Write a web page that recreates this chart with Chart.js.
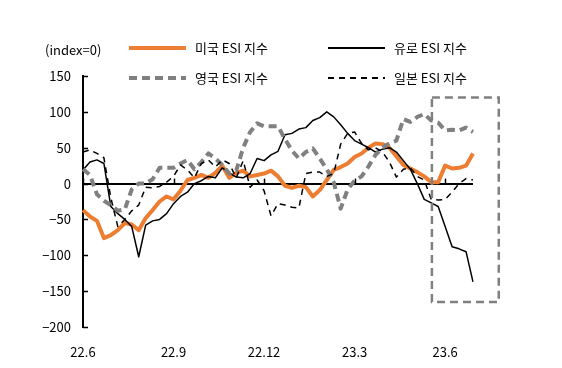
<!DOCTYPE html>
<html>
<head>
<meta charset="utf-8">
<script src="https://cdn.jsdelivr.net/npm/chart.js@4"></script>
<style>
  body { margin: 0; background: #fff; }
  #wrap { position: relative; width: 562px; height: 368px; font-family: "Noto Sans CJK KR", "Noto Sans", sans-serif; color: #000; }
  #chart-esi { position: absolute; left: 0; top: 0; }
  .unit { position: absolute; left: 45px; top: 40px; font-size: 13px; line-height: 20px; }
  .leg { position: absolute; display: flex; align-items: center; font-size: 13px; line-height: 20px; white-space: nowrap; }
  .leg svg { margin-right: 9px; }
</style>
</head>
<body>
<div id="wrap">
  <canvas id="chart-esi" width="562" height="368"></canvas>
  <div class="unit">(index=0)</div>
  <div id="legend"></div>
</div>
<script>
// 주간 샘플 (22.6 ~ 23.7)
const tickLabels = ['22.6', '22.9', '22.12', '23.3', '23.6'];
const tickIndex = [0, 13, 26, 39, 52];

const usEsi = [-37, -46, -52, -76, -72, -65, -55, -57, -65, -48, -37, -25, -18, -22, -10, 5, 8, 12, 8, 15,
  25, 8, 15, 18, 10, 12, 14, 18, 10, -3, -6, -3, -5, -18, -9, 5, 19, 23, 28, 37,
  42, 50, 56, 55, 50, 38, 26, 21, 16, 10, 2, 2, 25, 21, 22, 25, 42];
const euroEsi = [19, 30, 33, 28, -32, -42, -50, -60, -102, -58, -52, -50, -42, -28, -18, -12, 0, 4, 10, 8,
  22, 15, 9, 8, 14, 35, 32, 40, 45, 68, 70, 76, 78, 88, 92, 100, 93, 82, 70, 60,
  55, 50, 44, 48, 50, 44, 32, 20, 0, -22, -27, -32, -60, -88, -91, -95, -137];
const ukEsi = [20, 12, -15, -24, -30, -38, -36, -8, 0, 0, 6, 22, 22, 22, 28, 33, 20, 30, 42, 35,
  26, 14, 18, 50, 72, 84, 80, 80, 80, 62, 46, 35, 44, 49, 35, 20, 2, -35, -8, 4,
  10, 24, 40, 50, 56, 60, 90, 86, 93, 97, 88, 85, 74, 75, 74, 78, 72];
const jpEsi = [44, 47, 42, 36, -20, -60, -50, -38, -30, -5, -6, -4, 2, 10, 26, 19, 8, 28, 33, 23,
  33, 28, 8, 32, -5, 5, -10, -45, -28, -30, -33, -34, 14, 16, 16, 10, 14, 55, 70, 72,
  56, 47, 50, 44, 30, 9, 20, 22, 10, 5, -22, -23, -22, -12, 0, 7, 5];

// 점선 박스 (최근 구간 강조)
const boxX = [50.1, 59.7];
const boxY = [120, -165];

const labels = usEsi.map(function(v, i) {
  const k = tickIndex.indexOf(i);
  return k >= 0 ? tickLabels[k] : '';
});

const series = [
  { label: '미국 ESI 지수', data: usEsi, color: '#ED7D31', width: 4, dash: [] },
  { label: '유로 ESI 지수', data: euroEsi, color: '#000000', width: 1.5, dash: [] },
  { label: '영국 ESI 지수', data: ukEsi, color: '#808080', width: 4, dash: [8, 5] },
  { label: '일본 ESI 지수', data: jpEsi, color: '#000000', width: 1.5, dash: [6, 5] },
];

// 범례는 html 로
function buildLegend() {
  const pos = [[129, 38], [328, 38], [129, 68], [328, 68]];
  const box = document.getElementById('legend');
  series.forEach(function(s, i) {
    const el = document.createElement('div');
    el.className = 'leg';
    el.style.left = pos[i][0] + 'px';
    el.style.top = pos[i][1] + 'px';
    el.innerHTML = '<svg width="57" height="8"><line x1="0" y1="4" x2="57" y2="4" stroke="' + s.color +
      '" stroke-width="' + (s.width === 4 ? 4 : 2) + '" stroke-dasharray="' + s.dash.join(',') + '"/></svg>' +
      '<span>' + s.label + '</span>';
    box.appendChild(el);
  });
}

const extras = {
  id: 'extras',
  afterDraw(chart) {
    const c = chart.ctx, x = chart.scales.x, y = chart.scales.y;
    c.save();
    c.strokeStyle = '#000';
    c.lineWidth = 1.5;
    // y축 안쪽 눈금
    y.ticks.forEach(function(t) {
      const py = Math.round(y.getPixelForValue(t.value)) + 0.5;
      c.beginPath(); c.moveTo(x.left, py); c.lineTo(x.left + 5, py); c.stroke();
    });
    // 0선 위 눈금
    const y0 = y.getPixelForValue(0);
    tickIndex.forEach(function(i) {
      const px = Math.round(x.getPixelForValue(i)) + 0.5;
      c.beginPath(); c.moveTo(px, y0); c.lineTo(px, y0 - 5); c.stroke();
    });
    // 점선 박스
    c.strokeStyle = '#808080';
    c.lineWidth = 2.5;
    c.setLineDash([8, 5]);
    const x1 = x.getPixelForValue(boxX[0]), x2 = x.getPixelForValue(boxX[1]);
    const y1 = y.getPixelForValue(boxY[0]), y2 = y.getPixelForValue(boxY[1]);
    c.strokeRect(x1, y1, x2 - x1, y2 - y1);
    c.restore();
  }
};

function buildChart() {
  const ctx = document.getElementById('chart-esi').getContext('2d');
  // 나중에 그린 것이 아래로 가므로 역순
  const datasets = series.slice().reverse().map(function(s) {
    return {
      label: s.label,
      data: s.data,
      borderColor: s.color,
      borderWidth: s.width,
      borderDash: s.dash,
      borderCapStyle: 'butt',
      borderJoinStyle: 'round',
      pointRadius: 0,
      tension: 0,
      fill: false,
    };
  });
  new Chart(ctx, {
    type: 'line',
    data: { labels: labels, datasets: datasets },
    options: {
      responsive: false,
      animation: false,
      devicePixelRatio: 1,
      layout: { padding: { top: 76, right: 89, bottom: 0, left: 0 } },
      scales: {
        x: {
          offset: false,
          grid: { display: false },
          border: { display: false },
          ticks: { autoSkip: false, maxRotation: 0, padding: 9, color: '#000',
                   font: { family: '"Noto Sans CJK KR"', size: 13 } },
          afterFit: function(s) { s.height = 41; },
        },
        y: {
          min: -200,
          max: 150,
          ticks: {
            stepSize: 50, padding: 12, color: '#000',
            font: { family: '"Noto Sans CJK KR"', size: 13 },
            callback: function(v) { return String(v).replace('-', '\u2212'); },
          },
          grid: {
            drawTicks: false,
            color: function(c) { return c.tick && c.tick.value === 0 ? '#000' : 'rgba(0,0,0,0)'; },
            lineWidth: 2,
          },
          border: { display: true, color: '#000', width: 2 },
          afterFit: function(s) { s.width = 83; },
        },
      },
      plugins: {
        legend: { display: false },
        tooltip: { enabled: false },
      },
    },
    plugins: [extras],
  });
}

buildLegend();
buildChart();
</script>
</body>
</html>
